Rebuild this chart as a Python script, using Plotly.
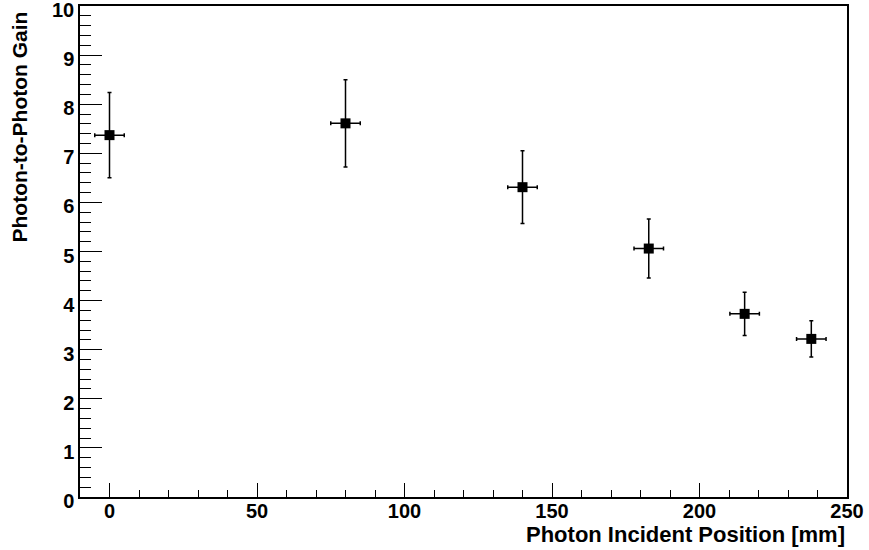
import plotly.graph_objects as go

x_pos = [0, 80, 140, 182.8, 215.3, 237.9]
gain = [7.37, 7.61, 6.31, 5.06, 3.73, 3.22]
gain_err = [0.87, 0.89, 0.74, 0.60, 0.44, 0.37]
x_err = [5, 5, 5, 5, 5, 5]

x_title = "Photon Incident Position [mm]"
y_title = "Photon-to-Photon Gain"

FONT = "Liberation Sans"
L, R, T, B = 80, 22, 6, 53
W, H = 869, 550
PW, PH = W - L - R, H - T - B

fig = go.Figure()
fig.add_trace(go.Scatter(
    x=x_pos, y=gain, mode="markers",
    marker=dict(symbol="square", size=10, color="black"),
    error_y=dict(type="data", array=gain_err, color="black", thickness=1.5, width=2),
    error_x=dict(type="data", array=x_err, color="black", thickness=1.5, width=2),
    showlegend=False,
))

tickfont = dict(family=FONT, size=20, color="black", weight="bold")

fig.update_layout(
    width=W, height=H,
    margin=dict(l=L, r=R, t=T, b=B, autoexpand=False),
    paper_bgcolor="white", plot_bgcolor="white",
    font=dict(family=FONT, size=20, color="black"),
    xaxis=dict(
        range=[-10, 250], dtick=50, tick0=0,
        ticks="inside", ticklen=14, tickwidth=1, tickcolor="black",
        minor=dict(dtick=10, tick0=0, ticks="inside", ticklen=7, tickwidth=1, tickcolor="black"),
        showline=True, linecolor="black", linewidth=1.5, mirror=True,
        showgrid=False, zeroline=False, automargin=False,
        ticklabeloverflow="allow", ticklabelstandoff=-5,
        tickfont=tickfont,
    ),
    yaxis=dict(
        range=[0, 10], dtick=1, tick0=0,
        ticks="inside", ticklen=22, tickwidth=1, tickcolor="black",
        minor=dict(dtick=0.2, tick0=0, ticks="inside", ticklen=11, tickwidth=1, tickcolor="black"),
        showline=True, linecolor="black", linewidth=1.5, mirror=True,
        showgrid=False, zeroline=False, automargin=False,
        ticklabeloverflow="allow", ticklabelshift=4,
        tickfont=tickfont,
    ),
    annotations=[
        dict(text="<b>" + x_title + "</b>", xref="paper", yref="paper",
             x=1.0, y=(H - B - 534) / PH, xanchor="right", yanchor="middle", showarrow=False,
             font=dict(family=FONT, size=22, color="black")),
        dict(text="<b>" + y_title + "</b>", xref="paper", yref="paper",
             x=(19 - L) / PW, y=(H - B - 10) / PH, xanchor="center", yanchor="top",
             textangle=-90, showarrow=False,
             font=dict(family=FONT, size=21, color="black")),
    ],
)

fig.write_html(
    "out.html",
    config={"displayModeBar": False},
    post_script="document.body.style.margin='0';document.body.style.overflow='hidden';",
)
